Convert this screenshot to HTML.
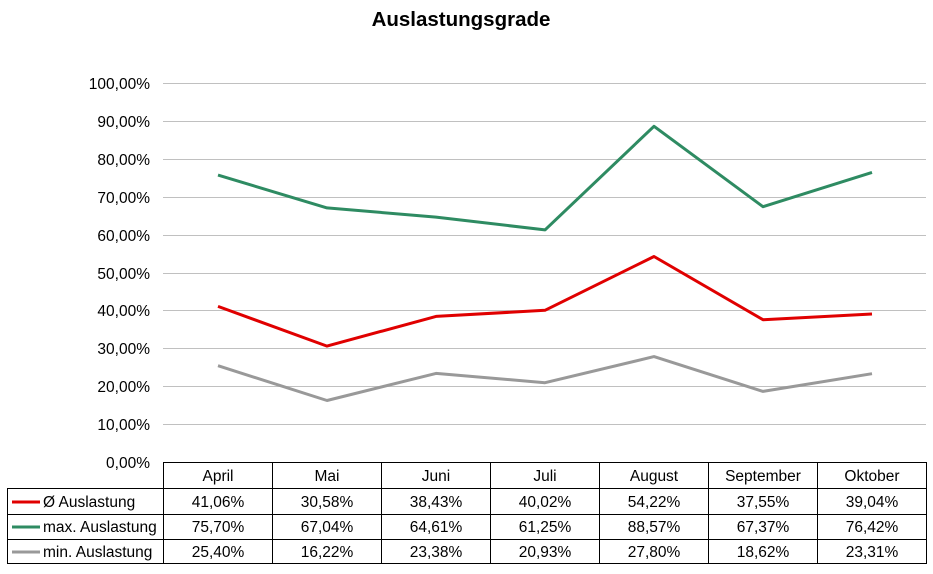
<!DOCTYPE html>
<html><head><meta charset="utf-8"><style>
body{margin:0;background:#fff;}
svg text{font-family:"Liberation Sans",Arial,sans-serif;}
</style></head><body>
<svg width="933" height="569" xmlns="http://www.w3.org/2000/svg">
<text x="461" y="26" font-size="20.5" font-weight="bold" text-anchor="middle">Auslastungsgrade</text>
<g stroke="#c0c0c0" stroke-width="1">
<line x1="163" x2="926" y1="83.5" y2="83.5"/>
<line x1="163" x2="926" y1="121.5" y2="121.5"/>
<line x1="163" x2="926" y1="159.5" y2="159.5"/>
<line x1="163" x2="926" y1="197.5" y2="197.5"/>
<line x1="163" x2="926" y1="235.5" y2="235.5"/>
<line x1="163" x2="926" y1="273.5" y2="273.5"/>
<line x1="163" x2="926" y1="310.5" y2="310.5"/>
<line x1="163" x2="926" y1="348.5" y2="348.5"/>
<line x1="163" x2="926" y1="386.5" y2="386.5"/>
<line x1="163" x2="926" y1="424.5" y2="424.5"/>
</g>
<g font-size="15.5" text-anchor="end" fill="#000">
<text x="150" y="89">100,00%</text>
<text x="150" y="127">90,00%</text>
<text x="150" y="165">80,00%</text>
<text x="150" y="203">70,00%</text>
<text x="150" y="241">60,00%</text>
<text x="150" y="279">50,00%</text>
<text x="150" y="316">40,00%</text>
<text x="150" y="354">30,00%</text>
<text x="150" y="392">20,00%</text>
<text x="150" y="430">10,00%</text>
<text x="150" y="468">0,00%</text>
</g>
<g fill="none" stroke-width="3" stroke-linejoin="round">
<polyline stroke="#2e8b62" points="218,175.1 327,207.9 436,217.1 545,229.9 654,126.3 763,206.7 872,172.4"/>
<polyline stroke="#e00000" points="218,306.4 327,346.1 436,316.4 545,310.3 654,256.5 763,319.7 872,314.0"/>
<polyline stroke="#999999" points="218,365.7 327,400.5 436,373.4 545,382.7 654,356.6 763,391.4 872,373.7"/>
</g>
<g stroke="#000" stroke-width="1" fill="none">
<line x1="163.5" y1="462" x2="163.5" y2="564"/>
<line x1="272.5" y1="462" x2="272.5" y2="564"/>
<line x1="381.5" y1="462" x2="381.5" y2="564"/>
<line x1="490.5" y1="462" x2="490.5" y2="564"/>
<line x1="599.5" y1="462" x2="599.5" y2="564"/>
<line x1="708.5" y1="462" x2="708.5" y2="564"/>
<line x1="817.5" y1="462" x2="817.5" y2="564"/>
<line x1="926.5" y1="462" x2="926.5" y2="564"/>
<line x1="163" y1="462.5" x2="927" y2="462.5"/>
<line x1="7" y1="488.5" x2="927" y2="488.5"/>
<line x1="7" y1="514.5" x2="927" y2="514.5"/>
<line x1="7" y1="539.5" x2="927" y2="539.5"/>
<line x1="7" y1="563.5" x2="927" y2="563.5"/>
<line x1="7.5" y1="488" x2="7.5" y2="564"/>
</g>
<g stroke-width="3">
<line x1="12" x2="40" y1="502" y2="502" stroke="#e00000"/>
<line x1="12" x2="40" y1="527" y2="527" stroke="#2e8b62"/>
<line x1="12" x2="40" y1="552" y2="552" stroke="#999999"/>
</g>
<g font-size="15.5">
<text x="43" y="507">Ø Auslastung</text>
<text x="43" y="532">max. Auslastung</text>
<text x="43" y="557">min. Auslastung</text>
</g>
<g font-size="15.5" text-anchor="middle">
<text x="218" y="481">April</text><text x="327" y="481">Mai</text><text x="436" y="481">Juni</text><text x="545" y="481">Juli</text><text x="654" y="481">August</text><text x="763" y="481">September</text><text x="872" y="481">Oktober</text>
<text x="218" y="507">41,06%</text><text x="327" y="507">30,58%</text><text x="436" y="507">38,43%</text><text x="545" y="507">40,02%</text><text x="654" y="507">54,22%</text><text x="763" y="507">37,55%</text><text x="872" y="507">39,04%</text>
<text x="218" y="532">75,70%</text><text x="327" y="532">67,04%</text><text x="436" y="532">64,61%</text><text x="545" y="532">61,25%</text><text x="654" y="532">88,57%</text><text x="763" y="532">67,37%</text><text x="872" y="532">76,42%</text>
<text x="218" y="557">25,40%</text><text x="327" y="557">16,22%</text><text x="436" y="557">23,38%</text><text x="545" y="557">20,93%</text><text x="654" y="557">27,80%</text><text x="763" y="557">18,62%</text><text x="872" y="557">23,31%</text>
</g>
</svg>
</body></html>
